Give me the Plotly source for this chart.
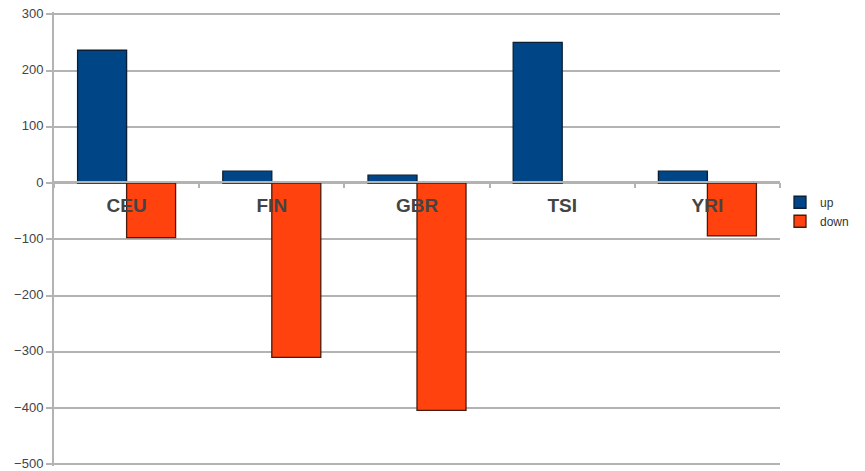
import plotly.graph_objects as go

categories = ["CEU", "FIN", "GBR", "TSI", "YRI"]
up_values = [236, 21, 14, 250, 21]
down_values = [-97, -310, -404, None, -94]
y_ticks = [300, 200, 100, 0, -100, -200, -300, -400, -500]

fig = go.Figure()
fig.add_trace(go.Bar(name="up", x=categories, y=up_values,
                     marker=dict(color="#004586", line=dict(color="#0a1f33", width=1.3))))
fig.add_trace(go.Bar(name="down", x=categories, y=down_values,
                     marker=dict(color="#ff420e", line=dict(color="#4a1a0c", width=1.3))))

fig.update_layout(
    width=865, height=471,
    margin=dict(l=54, r=85, t=12, b=5, autoexpand=False),
    paper_bgcolor="white", plot_bgcolor="white",
    barmode="group", bargap=0.325, bargroupgap=0,
    font=dict(family="Liberation Sans, Arial, sans-serif", color="#444444"),
    legend=dict(x=1.0, y=0.56, yanchor="middle", xanchor="left",
                font=dict(size=12, color="#333333"), tracegroupgap=0,
                itemwidth=30, bgcolor="rgba(0,0,0,0)"),
    showlegend=True,
)
fig.update_xaxes(
    type="category", anchor="free", position=0.625, automargin=False,
    showline=True, linecolor="#b3b3b3", linewidth=2,
    ticks="outside", tickson="boundaries", ticklen=5, tickcolor="#b3b3b3", tickwidth=1.5,
    ticklabelstandoff=6,
    tickfont=dict(size=19, color="#444444", family="Liberation Sans, Arial, sans-serif", weight="bold"),
    showgrid=False,
)
fig.update_yaxes(
    range=[-503, 304], tickvals=y_ticks, automargin=False, showgrid=True, gridcolor="#b3b3b3", gridwidth=2,
    zeroline=False, showline=True, linecolor="#b3b3b3", linewidth=2,
    ticks="outside", ticklen=6, tickcolor="#b3b3b3", tickwidth=1.5,
    ticklabelshift=-1, ticklabeloverflow="allow",
    tickfont=dict(size=13, color="#444444"),
)

fig.write_html("out.html")
